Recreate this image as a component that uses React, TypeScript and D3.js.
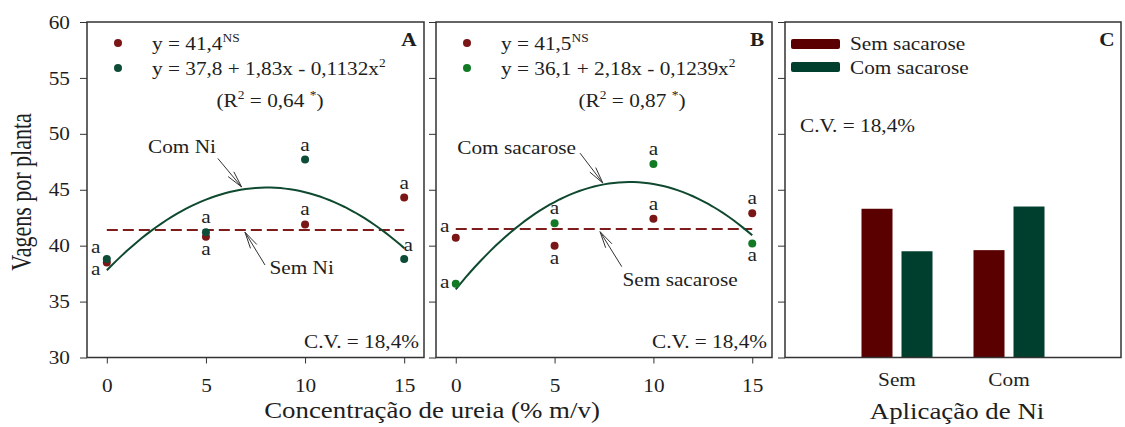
import React, { useEffect, useRef } from "react";
import * as d3 from "d3";

// Concentração de ureia (% m/v)
const ureaLevels = [0, 5, 10, 15];
const yTicks = [30, 35, 40, 45, 50, 55, 60];

// Painel A: sem Ni / com Ni
const semNiValues = [38.5, 40.8, 41.9, 44.3];
const comNiValues = [38.8, 41.2, 47.7, 38.8];
const semNiMean = 41.4;
const comNiCoef = [37.8, 1.83, -0.1132];

// Painel B: sem sacarose / com sacarose
const semSacValues = [40.7, 40.0, 42.4, 42.9];
const comSacValues = [36.6, 42.0, 47.3, 40.2];
const semSacMean = 41.5;
const comSacCoef = [36.1, 2.18, -0.1239];

// Painel C: aplicação de Ni
const niGroups = ["Sem", "Com"];
const sucroseKeys = ["Sem sacarose", "Com sacarose"];
const semSacBars = [43.3, 39.6];
const comSacBars = [39.5, 43.5];

// where the "a" goes relative to each point
const semNiPlace = ["left-below", "below", "above", "above"];
const comNiPlace = ["left-above", "above", "above", "above-right"];
const semSacPlace = ["left-above", "below", "above", "above"];
const comSacPlace = ["left", "above", "above", "below"];

const RED = "#7a1616";
const GREEN_A = "#0d4d38";
const GREEN_B = "#127a25";
const LINE_GREEN = "#0f4a30";
const DASH_RED = "#7f1d1d";
const BAR_RED = "#5a0000";
const BAR_GREEN = "#003f2e";
const INK = "#1e1e1e";
const FONT = "'Liberation Serif', 'Times New Roman', serif";
const SX = 1.12; // the original text is a bit wider than Times

const offsets: Record<string, [number, number]> = {
  above: [0, -13],
  below: [0, 14],
  "left-above": [-11, -10],
  "left-below": [-11, 9],
  left: [-11, 0],
  "above-right": [4, -12],
};

// text placed at (x, y) and widened horizontally
function addText(g: any, x: number, y: number, size: number, anchor = "start") {
  return g.append("text")
    .attr("transform", `translate(${x},${y}) scale(${SX},1)`)
    .attr("text-anchor", anchor).attr("font-size", size).attr("fill", INK);
}

function widenAxisText(a: any) {
  a.selectAll("text").each(function (this: any) {
    const t = d3.select(this);
    const x = +t.attr("x") || 0;
    const y = +t.attr("y") || 0;
    t.attr("x", 0).attr("y", 0).attr("transform", `translate(${x},${y}) scale(${SX},1)`);
  });
}

export default function App() {
  const svgRef = useRef<SVGSVGElement>(null);

  useEffect(() => {
    const svg = d3.select(svgRef.current);
    svg.selectAll("*").remove();

    const top = 22;
    const bottom = 357.5;
    const y = d3.scaleLinear().domain([30, 60]).range([bottom, top]);

    const panels = [
      {
        letter: "A", x0: 87, x1: 424, labels: true, r2x: 270,
        sem: semNiValues, com: comNiValues, mean: semNiMean, coef: comNiCoef,
        semPlace: semNiPlace, comPlace: comNiPlace, comColor: GREEN_A,
        eq1: "41,4", eq2: "y = 37,8 + 1,83x - 0,1132x", r2: "0,64",
        ann: [
          { text: "Com Ni", tx: 3.79, ty: 48.8, ax: 5.6, ay: 47.8, bx: 6.8, by: 45.25 },
          { text: "Sem Ni", tx: 9.83, ty: 38.0, ax: 7.98, ay: 38.27, bx: 6.97, by: 41.2 },
        ],
      },
      {
        letter: "B", x0: 436, x1: 772, labels: false, r2x: 632,
        sem: semSacValues, com: comSacValues, mean: semSacMean, coef: comSacCoef,
        semPlace: semSacPlace, comPlace: comSacPlace, comColor: GREEN_B,
        eq1: "41,5", eq2: "y = 36,1 + 2,18x - 0,1239x", r2: "0,87",
        ann: [
          { text: "Com sacarose", tx: 3.08, ty: 48.7, ax: 6.29, ay: 48.27, bx: 7.44, by: 45.6 },
          { text: "Sem sacarose", tx: 11.35, ty: 36.93, ax: 8.4, ay: 38.12, bx: 7.3, by: 41.25 },
        ],
      },
    ];

    const drawArrow = (g: any, x1: number, y1: number, x2: number, y2: number) => {
      g.append("line").attr("x1", x1).attr("y1", y1).attr("x2", x2).attr("y2", y2)
        .attr("stroke", "#333").attr("stroke-width", 1);
      const ang = Math.atan2(y1 - y2, x1 - x2);
      [-0.22, 0.22].forEach((d) => {
        g.append("line").attr("x1", x2).attr("y1", y2)
          .attr("x2", x2 + 17 * Math.cos(ang + d)).attr("y2", y2 + 17 * Math.sin(ang + d))
          .attr("stroke", "#333").attr("stroke-width", 1);
      });
    };

    panels.forEach((p) => {
      const x = d3.scaleLinear().domain([-1, 16]).range([p.x0, p.x1]);
      const g = svg.append("g").attr("font-family", FONT);

      // axes
      const yAxis = d3.axisLeft(y).tickValues(yTicks).tickSize(7).tickPadding(10);
      if (!p.labels) yAxis.tickFormat(() => "");
      const ya = g.append("g").attr("transform", `translate(${p.x0},0)`).call(yAxis);
      const xa = g.append("g").attr("transform", `translate(0,${bottom})`)
        .call(d3.axisBottom(x).tickValues(ureaLevels).tickSize(6).tickPadding(15));
      [ya, xa].forEach((a) => {
        a.select(".domain").remove();
        a.selectAll("line").attr("stroke", "#333");
        a.selectAll("text").attr("font-family", FONT).attr("font-size", 19).attr("fill", INK);
        widenAxisText(a);
      });

      g.append("rect").attr("x", p.x0).attr("y", top).attr("width", p.x1 - p.x0)
        .attr("height", bottom - top).attr("fill", "none").attr("stroke", "#333").attr("stroke-width", 1.5);

      // mean line (sem)
      g.append("line").attr("x1", x(0)).attr("x2", x(15)).attr("y1", y(p.mean)).attr("y2", y(p.mean))
        .attr("stroke", DASH_RED).attr("stroke-width", 2).attr("stroke-dasharray", "11,5");

      // fitted quadratic (com)
      const xs = d3.range(0, 15.01, 0.25);
      const line = d3.line<number>().x((d) => x(d))
        .y((d) => y(p.coef[0] + p.coef[1] * d + p.coef[2] * d * d));
      g.append("path").attr("d", line(xs)).attr("fill", "none")
        .attr("stroke", LINE_GREEN).attr("stroke-width", 2);

      // points + letters
      const drawPts = (vals: number[], color: string, place: string[]) => {
        ureaLevels.forEach((u, i) => {
          g.append("circle").attr("cx", x(u)).attr("cy", y(vals[i])).attr("r", 4).attr("fill", color);
          const [dx, dy] = offsets[place[i]];
          addText(g, x(u) + dx, y(vals[i]) + dy + 4, 19, "middle").text("a");
        });
      };
      drawPts(p.sem, RED, p.semPlace);
      drawPts(p.com, p.comColor, p.comPlace);

      // legend
      const lx = p.x0 + 31;
      g.append("circle").attr("cx", lx).attr("cy", 43).attr("r", 4).attr("fill", RED);
      g.append("circle").attr("cx", lx).attr("cy", 68).attr("r", 4).attr("fill", p.comColor);
      const t1 = addText(g, lx + 34, 50, 19);
      t1.append("tspan").text(`y = ${p.eq1}`);
      t1.append("tspan").attr("font-size", 12).attr("dy", -8).text("NS");
      const t2 = addText(g, lx + 34, 75, 19);
      t2.append("tspan").text(p.eq2);
      t2.append("tspan").attr("font-size", 12).attr("dy", -8).text("2");
      const t3 = addText(g, p.r2x, 107, 19, "middle");
      t3.append("tspan").text("(R");
      t3.append("tspan").attr("font-size", 12).attr("dy", -8).text("2");
      t3.append("tspan").attr("dy", 8).text(` = ${p.r2} `);
      t3.append("tspan").attr("font-size", 12).attr("dy", -8).text("*");
      t3.append("tspan").attr("dy", 8).text(")");

      addText(g, p.x1 - 15, 46, 19, "middle").attr("font-weight", "bold").text(p.letter);
      addText(g, p.x1 - 5, 348, 19, "end").text("C.V. = 18,4%");

      // annotations
      p.ann.forEach((a) => {
        addText(g, x(a.tx), y(a.ty) + 6, 19, "middle").text(a.text);
        drawArrow(g, x(a.ax), y(a.ay), x(a.bx), y(a.by));
      });
    });

    // Painel C
    const c0 = 785;
    const c1 = 1121;
    const gc = svg.append("g").attr("font-family", FONT);
    const xc = d3.scaleBand().domain(niGroups).range([c0, c1]).paddingInner(0.366).paddingOuter(0.683);
    const xs = d3.scaleBand().domain(sucroseKeys).range([0, xc.bandwidth()]).paddingInner(0.225);
    const yca = gc.append("g").attr("transform", `translate(${c0},0)`)
      .call(d3.axisLeft(y).tickValues(yTicks).tickSize(7).tickFormat(() => ""));
    yca.select(".domain").remove();
    yca.selectAll("line").attr("stroke", "#333");

    const barSeries = [
      { key: sucroseKeys[0], vals: semSacBars, color: BAR_RED },
      { key: sucroseKeys[1], vals: comSacBars, color: BAR_GREEN },
    ];
    barSeries.forEach((s) => {
      gc.selectAll(null).data(niGroups).join("rect")
        .attr("x", (d) => (xc(d) as number) + (xs(s.key) as number))
        .attr("width", xs.bandwidth())
        .attr("y", (d, i) => y(s.vals[i]))
        .attr("height", (d, i) => bottom - y(s.vals[i]))
        .attr("fill", s.color);
    });
    gc.append("rect").attr("x", c0).attr("y", top).attr("width", c1 - c0).attr("height", bottom - top)
      .attr("fill", "none").attr("stroke", "#333").attr("stroke-width", 1.5);

    niGroups.forEach((d) => {
      addText(gc, (xc(d) as number) + xc.bandwidth() / 2, 386, 19, "middle").text(d);
    });

    barSeries.forEach((s, i) => {
      gc.append("rect").attr("x", 791).attr("y", 39 + i * 23).attr("width", 49).attr("height", 10)
        .attr("rx", 2).attr("fill", s.color);
      addText(gc, 850, 50 + i * 23.5, 19).text(s.key);
    });
    addText(gc, 800, 132, 19).text("C.V. = 18,4%");
    addText(gc, 1107, 46, 19, "middle").attr("font-weight", "bold").text("C");

    // axis titles
    svg.append("text").attr("transform", "translate(31,192) scale(1.3,1) rotate(-90)").attr("text-anchor", "middle")
      .attr("font-family", FONT).attr("font-size", 22).attr("fill", INK).text("Vagens por planta");
    addText(svg, 432, 418, 24, "middle").attr("font-family", FONT).text("Concentração de ureia (% m/v)");
    addText(svg, 957, 419, 24, "middle").attr("font-family", FONT).text("Aplicação de Ni");
  }, []);

  return (
    <div style={{ position: "absolute", left: 0, top: 0 }}>
      <svg ref={svgRef} width={1125} height={427} style={{ display: "block", background: "#fff" }} />
    </div>
  );
}
